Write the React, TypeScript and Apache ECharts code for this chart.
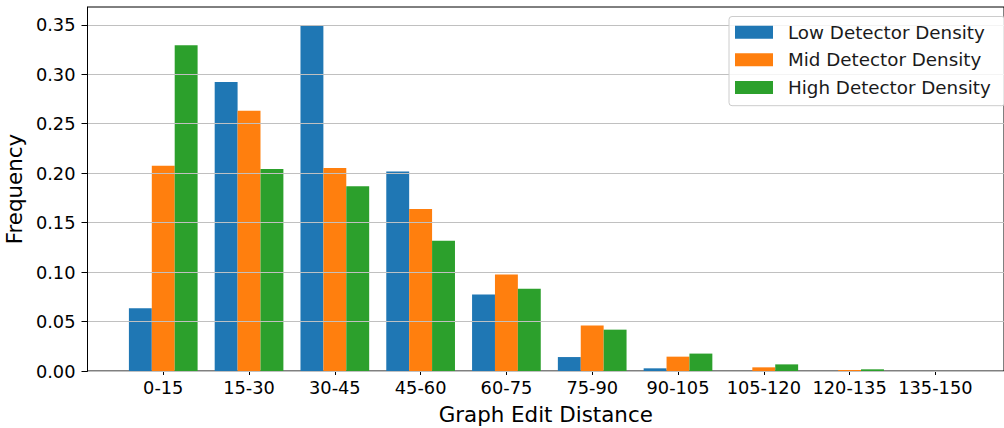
import React, { useEffect, useRef } from "react";
import * as echarts from "echarts";

const categories = ["0-15", "15-30", "30-45", "45-60", "60-75", "75-90", "90-105", "105-120", "120-135", "135-150"];
const lowDensity = [0.0634, 0.2923, 0.3497, 0.2017, 0.0773, 0.0141, 0.0027, 0, 0, 0];
const midDensity = [0.2074, 0.263, 0.2053, 0.1637, 0.0975, 0.0459, 0.0145, 0.0037, 0.001, 0];
const highDensity = [0.3294, 0.2043, 0.1869, 0.1318, 0.0831, 0.0418, 0.0176, 0.0067, 0.0017, 0];
const seriesNames = ["Low Detector Density", "Mid Detector Density", "High Detector Density"];
const colors = ["#1f77b4", "#ff7f0e", "#2ca02c"];
const yTicks = [0, 0.05, 0.1, 0.15, 0.2, 0.25, 0.3, 0.35];

const FONT = "DejaVu Sans";

export default function App() {
  const ref = useRef<HTMLDivElement>(null);
  useEffect(() => {
    document.body.style.margin = "0";
    const chart = echarts.init(ref.current!, null, { renderer: "svg" });
    const idx = categories.map((_, i) => i);
    const mk = (vals: number[], k: number) => ({
      name: seriesNames[k],
      type: "bar",
      data: vals.map((v, i) => [i, v]),
      barWidth: 22.9,
      barGap: "0%",
      itemStyle: { color: colors[k] },
      z: 2,
    });
    chart.setOption({
      animation: false,
      textStyle: { fontFamily: FONT },
      grid: {
        left: 87.5,
        top: 7,
        right: 0,
        bottom: 428 - 371,
        outerBoundsMode: "none",
        show: true,
        borderColor: "#000",
        borderWidth: 1,
        backgroundColor: "transparent",
      },
      legend: {
        orient: "vertical",
        left: 729,
        top: 16.5,
        z: 10,
        padding: [6.5, 14, 9, 6],
        itemWidth: 38,
        itemHeight: 13,
        itemGap: 9.4,
        backgroundColor: "rgba(255,255,255,0.82)",
        borderColor: "#cccccc",
        borderWidth: 1,
        borderRadius: 3,
        textStyle: { fontFamily: FONT, fontSize: 18.3, color: "#1a1a1a", padding: [0, 0, 0, 10], lineHeight: 18.3 },
        data: seriesNames.map((n) => ({ name: n, icon: "rect" })),
      },
      xAxis: {
        type: "value",
        min: -0.883,
        max: 9.8,
        axisLine: { show: true, onZero: false, lineStyle: { color: "#000", width: 1 } },
        axisTick: { show: true, customValues: idx, length: 4, inside: false, lineStyle: { color: "#000" } },
        axisLabel: {
          customValues: idx,
          formatter: (v: number) => categories[Math.round(v)] ?? "",
          fontFamily: FONT,
          fontSize: 17.8,
          color: "#000",
          margin: 7,
        },
        splitLine: { show: false },
        name: "Graph Edit Distance",
        nameLocation: "middle",
        nameGap: 33,
        nameTextStyle: { fontFamily: FONT, fontSize: 21.4, color: "#000" },
      },
      yAxis: {
        type: "value",
        min: 0,
        max: 0.368,
        z: 5,
        axisLine: { show: true, onZero: false, lineStyle: { color: "#000", width: 1 } },
        axisTick: { show: true, customValues: yTicks, length: 6, lineStyle: { color: "#000" } },
        axisLabel: {
          customValues: yTicks,
          formatter: (v: number) => v.toFixed(2),
          fontFamily: FONT,
          fontSize: 17.8,
          color: "#000",
          margin: 12,
        },
        splitLine: { show: true, lineStyle: { color: "#c0c0c0", width: 1.2 } },
        name: "Frequency",
        nameLocation: "middle",
        nameGap: 49,
        nameTextStyle: { fontFamily: FONT, fontSize: 21.4, color: "#000" },
      },
      series: [mk(lowDensity, 0), mk(midDensity, 1), mk(highDensity, 2)],
    });
    return () => chart.dispose();
  }, []);
  return <div ref={ref} style={{ width: 1004, height: 428 }} />;
}
